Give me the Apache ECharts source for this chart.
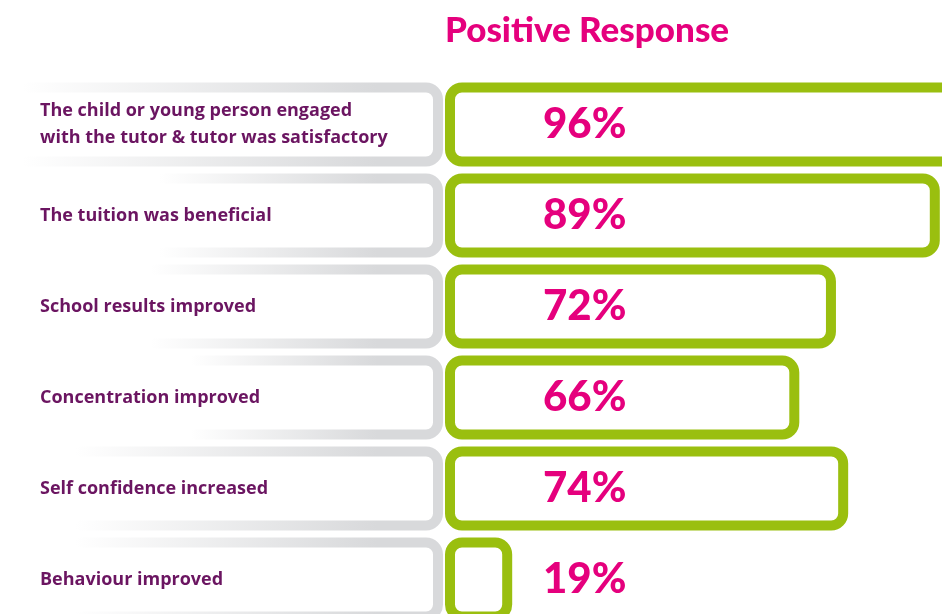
<!DOCTYPE html>
<html lang="en">
<head>
<meta charset="UTF-8">
<title>Positive Response</title>
<script src="https://cdn.jsdelivr.net/npm/echarts@6/dist/echarts.min.js"></script>
<style>
  html, body { margin: 0; padding: 0; background: #fff; }
  #chart { width: 942px; height: 614px; }
</style>
</head>
<body>
<div id="chart"></div>
<script>
const questions = [
  'The child or young person engaged\nwith the tutor & tutor was satisfactory',
  'The tuition was beneficial',
  'School results improved',
  'Concentration improved',
  'Self confidence increased',
  'Behaviour improved'
]
const positive = [96, 89, 72, 66, 74, 19]
const panels = [1, 1, 1, 1, 1, 1]

// where the grey label panels fade out on the left (fraction of panel width)
const fadeStart = [0.05, 0.36, 0.34, 0.43, 0.17, 0.17]

const green = '#9abf0f'
const pink = '#e5007d'
const purple = '#6b1561'
const grey = '#d8d9db'

const chart = echarts.init(document.getElementById('chart'))

const option = {
  animation: false,
  backgroundColor: '#fff',
  title: {
    text: 'Positive Response',
    left: 440,
    top: 8,
    textStyle: { color: pink, fontSize: 35, fontWeight: 900, fontFamily: 'Lato' }
  },
  grid: [
    { left: 0, width: 443, top: 79, height: 546, outerBoundsMode: 'none' },
    // the drawing does not start its bars at zero, so the value axis starts at 8
    { left: 445, width: 562, top: 79, height: 546, outerBoundsMode: 'none' }
  ],
  xAxis: [
    { gridIndex: 0, type: 'value', min: 0, max: 1, show: false },
    { gridIndex: 1, type: 'value', min: 8, max: 100, startValue: 8, show: false }
  ],
  yAxis: [
    {
      gridIndex: 0, type: 'category', data: questions, inverse: true, show: false
    },
    {
      gridIndex: 1, type: 'category', data: questions, inverse: true, z: 10,
      axisLine: { show: false },
      axisTick: { show: false },
      splitLine: { show: false },
      axisLabel: {
        align: 'left',
        margin: 405,
        color: purple,
        fontSize: 18,
        fontWeight: 'bold',
        fontFamily: 'Open Sans',
        lineHeight: 27
      }
    }
  ],
  series: [
    {
      type: 'bar',
      xAxisIndex: 0,
      yAxisIndex: 0,
      barWidth: 84,
      silent: true,
      z: 1,
      data: panels.map((v, i) => ({
        value: v,
        itemStyle: {
          color: 'rgba(255,255,255,0)',
          borderWidth: 10,
          borderRadius: 12,
          borderColor: new echarts.graphic.LinearGradient(0, 0, 1, 0, [
            { offset: 0, color: 'rgba(216,217,219,0)' },
            { offset: fadeStart[i], color: 'rgba(216,217,219,0)' },
            { offset: 0.85, color: grey },
            { offset: 1, color: grey }
          ])
        }
      }))
    },
    {
      type: 'bar',
      name: 'Positive Response',
      xAxisIndex: 1,
      yAxisIndex: 1,
      barWidth: 84,
      data: positive,
      itemStyle: {
        color: '#fff',
        borderColor: green,
        borderWidth: 10,
        borderRadius: 12
      },
      label: {
        show: true,
        position: [98, '50%'],
        verticalAlign: 'middle',
        formatter: '{c}%',
        color: pink,
        fontSize: 42,
        fontWeight: 900,
        fontFamily: 'Lato'
      }
    }
  ]
}

chart.setOption(option)
</script>
</body>
</html>
